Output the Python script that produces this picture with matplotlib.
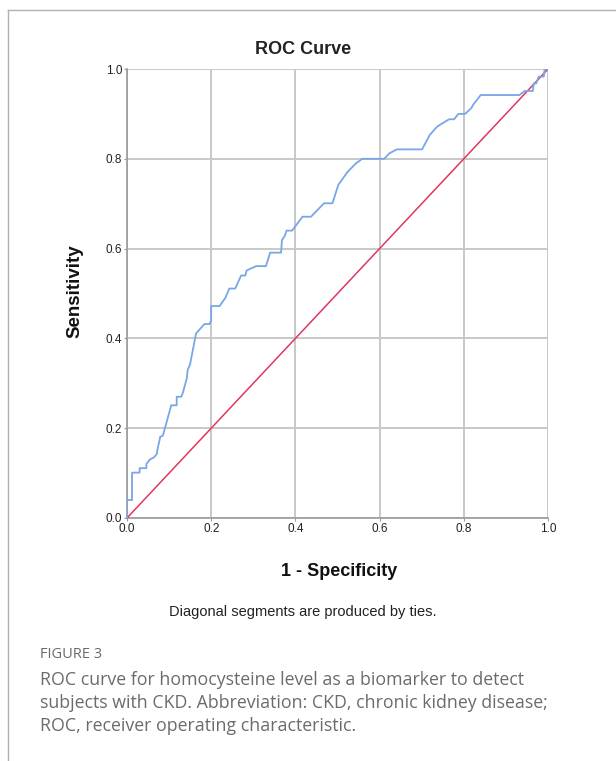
import numpy as np
import matplotlib
matplotlib.use('Agg')
from matplotlib import pyplot as plt
from matplotlib.lines import Line2D

# ROC curve points
fpr = [0.0, 0.0, 0.012, 0.012, 0.030, 0.030, 0.046, 0.046, 0.054, 0.064, 0.071, 0.072,
       0.079, 0.085, 0.091, 0.105, 0.118, 0.118, 0.129, 0.133, 0.142, 0.144, 0.150,
       0.164, 0.184, 0.196, 0.200, 0.200, 0.220, 0.234, 0.243, 0.257, 0.271, 0.281,
       0.284, 0.295, 0.307, 0.330, 0.340, 0.366, 0.368, 0.374, 0.379, 0.392, 0.417,
       0.437, 0.468, 0.488, 0.502, 0.524, 0.544, 0.559, 0.611, 0.623, 0.641, 0.701,
       0.719, 0.737, 0.765, 0.777, 0.787, 0.803, 0.818, 0.822, 0.840, 0.932, 0.945,
       0.964, 0.966, 0.972, 0.978, 0.990, 0.992, 1.0]
tpr = [0.0, 0.040, 0.040, 0.101, 0.101, 0.111, 0.111, 0.120, 0.130, 0.135, 0.143, 0.151,
       0.181, 0.183, 0.203, 0.251, 0.251, 0.270, 0.270, 0.280, 0.311, 0.329, 0.343,
       0.411, 0.432, 0.432, 0.440, 0.472, 0.472, 0.491, 0.511, 0.511, 0.540, 0.540,
       0.551, 0.556, 0.561, 0.561, 0.591, 0.591, 0.619, 0.627, 0.640, 0.640, 0.671,
       0.671, 0.701, 0.701, 0.742, 0.771, 0.790, 0.800, 0.800, 0.812, 0.821, 0.821,
       0.853, 0.872, 0.888, 0.888, 0.900, 0.900, 0.913, 0.920, 0.942, 0.942, 0.951,
       0.951, 0.968, 0.968, 0.983, 0.983, 1.0, 1.0]
ref = [0.0, 1.0]
ticks = [0.0, 0.2, 0.4, 0.6, 0.8, 1.0]

caption_head = "FIGURE 3"
caption = ["ROC curve for homocysteine level as a biomarker to detect",
           "subjects with CKD. Abbreviation: CKD, chronic kidney disease;",
           "ROC, receiver operating characteristic."]

fig = plt.figure(figsize=(6.16, 7.61), dpi=100)
ax = fig.add_axes([127/616, 243/761, 421/616, 449/761])

ax.plot(ref, ref, color='#e0375c', lw=1.1, zorder=3)
ax.plot(fpr, tpr, color='#78a6e6', lw=1.3, zorder=4)

ax.set_xlim(0, 1)
ax.set_ylim(0, 1)
ax.set_xticks(ticks)
ax.set_yticks(ticks)
ax.set_xticklabels(["{:.1f}".format(t) for t in ticks])
ax.set_yticklabels(["{:.1f}".format(t) for t in ticks])
ax.grid(True, color='#c8c8c8', lw=1.4)
ax.set_axisbelow(True)
for s in ('top', 'right'):
    ax.spines[s].set_visible(False)
for s in ('left', 'bottom'):
    ax.spines[s].set_color('#9a9a9a')
    ax.spines[s].set_linewidth(1.2)
ax.tick_params(length=2, width=0.8, color='#9a9a9a', pad=1.5,
               labelsize=8.5, labelcolor='#222222')
for lab in ax.get_xticklabels() + ax.get_yticklabels():
    lab.set_family('Liberation Sans')

fig.text(303/616, 1 - 50/761, "ROC Curve", ha='center', va='center',
         family='Liberation Sans', fontsize=13, fontweight='bold', color='#222222')
fig.text(75/616, 1 - 291/761, "Sensitivity", ha='center', va='center', rotation=90,
         family='Liberation Sans', fontsize=13.5, fontweight='bold', color='#111111')
fig.text(339/616, 1 - 571/761, "1 - Specificity", ha='center', va='center',
         family='Liberation Sans', fontsize=13, fontweight='bold', color='#111111')
fig.text(303/616, 1 - 612/761, "Diagonal segments are produced by ties.", ha='center',
         va='center', family='Liberation Sans', fontsize=10.5, color='#222222')

fig.text(40/616, 1 - 655/761, caption_head, ha='left', va='center',
         family='Open Sans', fontsize=10.5, color='#6b6b6b')
for i, line in enumerate(caption):
    fig.text(40/616, 1 - (680 + 23*i)/761, line, ha='left', va='center',
             family='Open Sans', fontsize=12.8, color='#6b6b6b')

# page frame
fig.add_artist(Line2D([8/616, 1], [1 - 10/761, 1 - 10/761], transform=fig.transFigure,
                      color='#b0b0b0', lw=1.0))
fig.add_artist(Line2D([8/616, 8/616], [1 - 10/761, 0], transform=fig.transFigure,
                      color='#b0b0b0', lw=1.0))

fig.savefig('out.png', dpi=100)
